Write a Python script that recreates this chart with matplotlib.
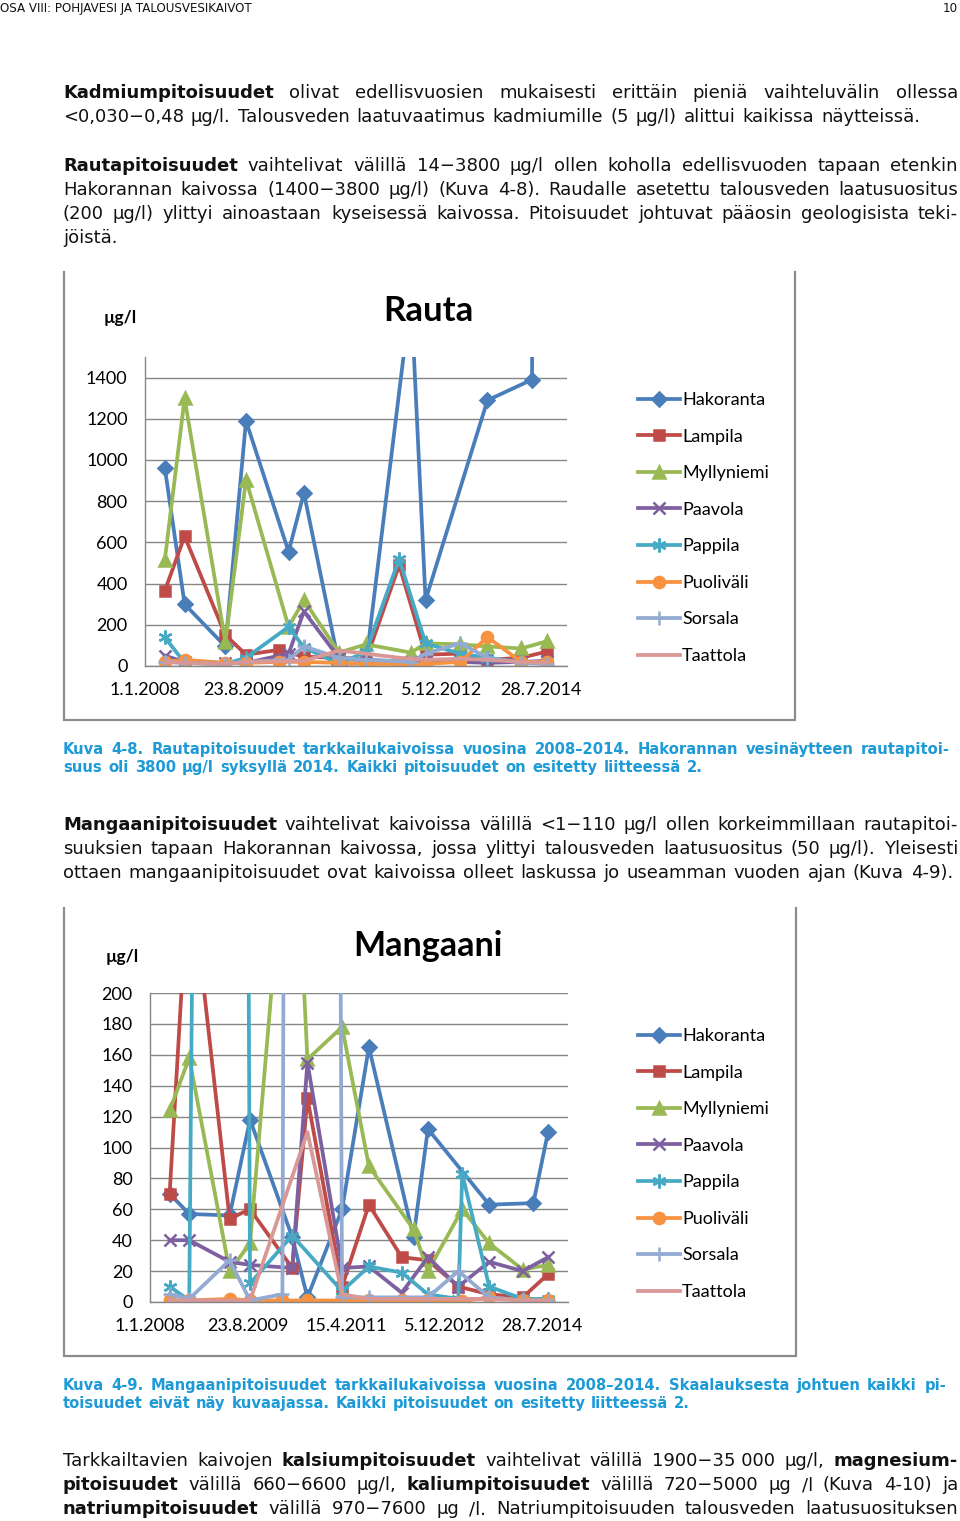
import matplotlib
matplotlib.use('Agg')
import matplotlib.pyplot as plt
import numpy as np
from datetime import date, timedelta

# ---------------- data ----------------
sample_dates = ['2008-04-30', '2008-08-28', '2009-05-02', '2009-09-04', '2010-03-21',
                '2010-05-20', '2010-08-21', '2011-03-21', '2011-09-01', '2012-03-20',
                '2012-05-31', '2012-08-27', '2013-03-01', '2013-03-25', '2013-09-06',
                '2014-03-30', '2014-06-03', '2014-06-20', '2014-09-01']

wells = ['Hakoranta', 'Lampila', 'Myllyniemi', 'Paavola', 'Pappila', 'Puoliväli', 'Sorsala', 'Taattola']

# Rauta (iron), µg/l
fe_hakoranta = [962, 300, 95, 1190, None, 555, 840, 10, 15, None, 1800, 320, None, None, 1290, None, 1390, 3800, None]
fe_lampila = [365, 630, 150, 55, 78, None, 45, 40, 30, 490, None, 55, None, 60, 30, 40, None, None, 70]
fe_myllyniemi = [515, 1300, 115, 905, None, 190, 320, 65, 105, None, 65, 110, None, 105, 95, 85, None, None, 120]
fe_paavola = [50, 20, 15, 15, None, 60, 265, 40, 30, None, 20, 25, None, 20, 15, 20, None, None, 25]
fe_pappila = [140, 15, 10, 40, None, 190, 90, 10, 70, 520, None, 110, None, 60, 40, 20, None, None, 15]
fe_puolivali = [20, 30, 15, 15, 20, None, 20, 15, 10, 10, None, 10, None, 20, 140, 20, None, None, 20]
fe_sorsala = [20, 15, 10, 20, None, 30, 95, 40, 30, None, 20, 60, None, 110, 40, 15, None, None, 10]
fe_taattola = [20, 15, 10, 20, None, None, 25, 75, 60, 40, None, 30, None, 35, 30, 20, None, None, 15]

# Mangaani (manganese), µg/l
mn_hakoranta = [70, 57, 56, 118, None, 42, 3, 60, 165, None, 42, 112, None, None, 63, None, 64, None, 110]
mn_lampila = [70, 287, 54, 60, None, 22, 132, 10, 63, 29, None, 27, 10, None, 5, 3, None, None, 18]
mn_myllyniemi = [124, 158, 20, 38, None, 360, 157, 178, 88, None, 47, 20, None, 60, 38, 21, None, None, 24]
mn_paavola = [40, 40, 26, 24, None, 22, 155, 22, 23, 6, None, 29, 10, None, 26, 20, None, None, 29]
mn_pappila = [10, 1, 3000, 12, None, 43, None, 7, 23, 19, None, 5, 2, 83, 10, 2, None, None, 2]
mn_puolivali = [1, 1, 2, 1, 1, None, 1, 1, 1, 1, None, 1, None, 0.5, 3, 1, None, None, 1]
mn_sorsala = [5, 2, 27, 1, 5, None, 5000, 3, 3, None, None, 3, 20, None, 3, 1, None, None, 1]
mn_taattola = [1, 1, 1, 1, None, None, 110, 5, 2, None, None, 2, None, 2, 2, 1, None, None, 1]

fe_yticks = [0, 200, 400, 600, 800, 1000, 1200, 1400]
mn_yticks = [0, 20, 40, 60, 80, 100, 120, 140, 160, 180, 200]

# ---------------- styles ----------------
colors = ['#4A7EBB', '#BE4B48', '#98B954', '#7D60A0', '#46AAC5', '#F69240', '#93AAD3', '#D99795']
markers = ['D', 's', '^', 'x', (6, 2, 0), 'o', '+', None]
msizes = [7, 7.5, 9, 8, 10, 8, 10, 0]
CAP = '#1E9AD6'
TXT = '#111111'

W, H = 960, 1521
DPI = 100
fig = plt.figure(figsize=(W / DPI, H / DPI), dpi=DPI)
ov = fig.add_axes([0, 0, 1, 1])
ov.set_xlim(0, W)
ov.set_ylim(H, 0)
ov.axis('off')
renderer = fig.canvas.get_renderer()

_cache = {}


def measure(s, size, weight, family):
    key = (s, size, weight, family)
    if key not in _cache:
        t = ov.text(0, 0, s, fontsize=size, fontweight=weight, family=family)
        _cache[key] = t.get_window_extent(renderer).width
        t.remove()
    return _cache[key]


def tokens(segs):
    out = []
    for s, wt in segs:
        for w in s.split(' '):
            if w:
                out.append((w, wt))
    return out


def draw_line(segs, y, x0, x1, size, color=TXT, family='DejaVu Sans'):
    toks = tokens(segs)
    ws = [measure(s, size, wt, family) for s, wt in toks]
    if x1 is None or len(toks) == 1:
        gap = measure('a a', size, 'normal', family) - measure('aa', size, 'normal', family)
    else:
        gap = (x1 - x0 - sum(ws)) / (len(toks) - 1)
    x = x0
    for (s, wt), w in zip(toks, ws):
        ov.text(x, y, s, fontsize=size, fontweight=wt, family=family, color=color,
                va='baseline', ha='left')
        x += w + gap


N, B = 'normal', 'bold'
BODY = 13
L, R = 63, 958

# header
ov.text(0, 12, 'OSA VIII: POHJAVESI JA TALOUSVESIKAIVOT', fontsize=8.6, family='DejaVu Sans',
        color=TXT, va='baseline', ha='left')
ov.text(958, 12, '10', fontsize=8.6, family='DejaVu Sans', color=TXT, va='baseline', ha='right')

# paragraph 1
draw_line([('Kadmiumpitoisuudet', B), ('olivat edellisvuosien mukaisesti erittäin pieniä vaihteluvälin ollessa', N)], 98, L, R, BODY)
draw_line([('<0,030−0,48 µg/l. Talousveden laatuvaatimus kadmiumille (5 µg/l) alittui kaikissa näytteissä.', N)], 122, L, 920, BODY)

# paragraph 2
draw_line([('Rautapitoisuudet', B), ('vaihtelivat välillä 14−3800 µg/l ollen koholla edellisvuoden tapaan etenkin', N)], 171, L, R, BODY)
draw_line([('Hakorannan kaivossa (1400−3800 µg/l) (Kuva 4-8). Raudalle asetettu talousveden laatusuositus', N)], 195, L, R, BODY)
draw_line([('(200 µg/l) ylittyi ainoastaan kyseisessä kaivossa. Pitoisuudet johtuvat pääosin geologisista teki-', N)], 219, L, R, BODY)
draw_line([('jöistä.', N)], 243, L, None, BODY)

# caption 1
CS = 10.6
draw_line([('Kuva 4-8. Rautapitoisuudet tarkkailukaivoissa vuosina 2008–2014. Hakorannan vesinäytteen rautapitoi-', B)], 754, L, 950, CS, CAP)
draw_line([('suus oli 3800 µg/l syksyllä 2014. Kaikki pitoisuudet on esitetty liitteessä 2.', B)], 772, L, 703, CS, CAP)

# paragraph 3
draw_line([('Mangaanipitoisuudet', B), ('vaihtelivat kaivoissa välillä <1−110 µg/l ollen korkeimmillaan rautapitoi-', N)], 830, L, R, BODY)
draw_line([('suuksien tapaan Hakorannan kaivossa, jossa ylittyi talousveden laatusuositus (50 µg/l). Yleisesti', N)], 854, L, R, BODY)
draw_line([('ottaen mangaanipitoisuudet ovat kaivoissa olleet laskussa jo useamman vuoden ajan (Kuva 4-9).', N)], 878, L, 953, BODY)

# caption 2
draw_line([('Kuva 4-9. Mangaanipitoisuudet tarkkailukaivoissa vuosina 2008–2014. Skaalauksesta johtuen kaikki pi-', B)], 1390, L, 946, CS, CAP)
draw_line([('toisuudet eivät näy kuvaajassa. Kaikki pitoisuudet on esitetty liitteessä 2.', B)], 1408, L, 690, CS, CAP)

# paragraph 4
draw_line([('Tarkkailtavien kaivojen', N), ('kalsiumpitoisuudet', B), ('vaihtelivat välillä 1900−35\u00a0000 µg/l,', N), ('magnesium-', B)], 1466, L, R, BODY)
draw_line([('pitoisuudet', B), ('välillä 660−6600 µg/l,', N), ('kaliumpitoisuudet', B), ('välillä 720−5000 µg /l (Kuva 4-10) ja', N)], 1490, L, R, BODY)
draw_line([('natriumpitoisuudet', B), ('välillä 970−7600 µg /l. Natriumpitoisuuden talousveden laatusuosituksen', N)], 1514, L, R, BODY)

# chart frames (left, bottom, right edges)
FR = '#8C8C8C'
for (x0, y0, x1, y1) in [(64, 272, 795, 720), (64, 908, 796, 1356)]:
    ov.plot([x0, x0, x1, x1], [y0, y1, y1, y0], color=FR, lw=1.6, solid_joinstyle='miter')

dts = [date.fromisoformat(d) for d in sample_dates]
start = date(2008, 1, 1)
xt = [start + timedelta(days=600 * k) for k in range(5)]
xtl = [f'{d.day}.{d.month}.{d.year}' for d in xt]
CF = 'Lato'


def chart(rect, series, ymax, yticks, title, title_xy, title_size, unit_xy, legend_top):
    ax = fig.add_axes(rect)
    ax.set_facecolor('none')
    handles = []
    for i, vals in enumerate(series):
        xs = [d for d, v in zip(dts, vals) if v is not None]
        ys = [v for v in vals if v is not None]
        kw = dict(color=colors[i], lw=2.7, label=wells[i], solid_joinstyle='round')
        if markers[i] is not None:
            kw.update(marker=markers[i], ms=msizes[i], mfc=colors[i], mec=colors[i], mew=1.8)
        h, = ax.plot(xs, ys, **kw)
        handles.append(h)
    ax.set_xlim(start, date(2015, 1, 1))
    ax.set_ylim(0, ymax)
    ax.set_xticks(xt)
    ax.set_xticklabels(xtl, family=CF, fontsize=13)
    ax.set_yticks(yticks)
    ax.set_yticklabels([str(v) for v in yticks], family=CF, fontsize=13)
    ax.grid(axis='y', color='#868686', lw=1)
    ax.set_axisbelow(True)
    for s in ['top', 'right']:
        ax.spines[s].set_visible(False)
    for s in ['left', 'bottom']:
        ax.spines[s].set_color('#868686')
        ax.spines[s].set_linewidth(1)
    ax.tick_params(axis='y', length=0, pad=12.5)
    ax.tick_params(axis='x', length=0, pad=11.5)
    ov.text(title_xy[0], title_xy[1], title, family=CF, fontweight='bold', fontsize=title_size,
            ha='center', va='center', color='#000000')
    ov.text(unit_xy[0], unit_xy[1], 'µg/l', family=CF, fontweight='bold', fontsize=12.5,
            ha='center', va='center', color='#000000')
    ax.legend(handles, wells, loc='upper left', bbox_to_anchor=(638 / W, 1 - legend_top / H),
              bbox_transform=fig.transFigure, frameon=False, borderpad=0, borderaxespad=0,
              handlelength=2.33, handletextpad=0.12, labelspacing=1.14, numpoints=1,
              prop={'family': CF, 'size': 13})
    return ax


chart([145 / W, 1 - 666 / H, (567 - 145) / W, (666 - 357) / H],
      [fe_hakoranta, fe_lampila, fe_myllyniemi, fe_paavola, fe_pappila, fe_puolivali, fe_sorsala, fe_taattola],
      1500, fe_yticks, 'Rauta', (428, 311), 25, (120, 318), 392)

chart([150 / W, 1 - 1302 / H, (568 - 150) / W, (1302 - 993) / H],
      [mn_hakoranta, mn_lampila, mn_myllyniemi, mn_paavola, mn_pappila, mn_puolivali, mn_sorsala, mn_taattola],
      200, mn_yticks, 'Mangaani', (428, 946), 24.5, (122, 957), 1028)

fig.savefig('out.png', dpi=DPI, facecolor='white')
